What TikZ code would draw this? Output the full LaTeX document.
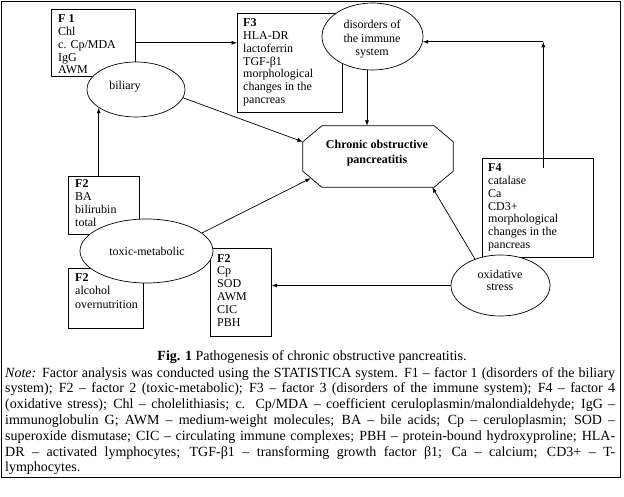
\documentclass[tikz,border=0pt]{standalone}
\usepackage{fontspec}
\setmainfont{Liberation Serif}
\usetikzlibrary{arrows.meta,shapes.geometric}
\newcommand\mylines[3]{{\fontsize{12}{#1}\selectfont\begin{tabular}[t]{@{}#2@{}}#3\end{tabular}}}
\newcommand\capline[1]{\makebox[610pt][s]{#1}}
\begin{document}
\begin{tikzpicture}[x=1pt,y=-1pt,
  factorbox/.style={draw, line width=0.7pt, inner sep=0, anchor=north west},
  oval/.style={ellipse, draw, fill=white, inner sep=0, line width=0.7pt},
  conn/.style={-{Latex[length=5.5pt,width=4pt]}, line width=0.7pt},
  txt/.style={inner sep=0, anchor=base west},
  ctxt/.style={inner sep=0, anchor=base}]
\useasboundingbox (0,0) rectangle (624,497);
\draw[line width=1pt] (1.5,1.5) rectangle (620,477);

% factor boxes
\node[factorbox, minimum width=84pt, minimum height=67pt] (f1) at (51,9) {};
\node[factorbox, minimum width=105pt, minimum height=99pt] (f3) at (237,13) {};
\node[factorbox, minimum width=71pt, minimum height=58pt] (ba) at (68,176) {};
\node[factorbox, minimum width=75pt, minimum height=60pt] (alc) at (68,268) {};
\node[factorbox, minimum width=61pt, minimum height=88pt] (cp) at (210,248) {};
\node[factorbox, minimum width=111pt, minimum height=99pt] (f4) at (482,158) {};

\node[txt] (f1t) at (58,23) {\mylines{12.7}{l}{\textbf{F 1}\\Chl\\c. Cp/MDA\\IgG\\AWM}};
\node[txt] (f3t) at (243,27) {\mylines{12.7}{l}{\textbf{F3}\\HLA-DR\\lactoferrin\\TGF-β1\\morphological\\changes in the\\pancreas}};
\node[txt] (bat) at (75,188) {\mylines{13}{l}{\textbf{F2}\\BA\\bilirubin\\total}};
\node[txt] (alct) at (75,282) {\mylines{13}{l}{\textbf{F2}\\alcohol\\overnutrition}};
\node[txt] (cpt) at (217,262) {\mylines{12.8}{l}{\textbf{F2}\\Cp\\SOD\\AWM\\CIC\\PBH}};
\node[txt] (f4t) at (488,172) {\mylines{12.7}{l}{\textbf{F4}\\catalase\\Ca\\CD3+\\morphological\\changes in the\\pancreas}};

% ellipses
\node[oval, minimum width=98pt, minimum height=55pt] (bil) at (136,89.5) {};
\node[oval, minimum width=101pt, minimum height=67pt] (imm) at (372.5,36.5) {};
\node[oval, minimum width=133pt, minimum height=64pt] (tox) at (146.5,251) {};
\node[oval, minimum width=99pt, minimum height=61pt] (ox) at (500.5,285.5) {};

\node[ctxt] (bilt) at (125,90) {\mylines{13}{c}{biliary}};
\node[ctxt] (immt) at (372,29) {\mylines{13.5}{c}{disorders of\\the immune\\system}};
\node[ctxt] (toxt) at (147,255) {\mylines{13}{c}{toxic-metabolic}};
\node[ctxt] (oxt) at (500,278) {\mylines{13}{c}{oxidative\\stress}};

% central octagon
\node[minimum width=150pt, minimum height=61pt, inner sep=0] (cop) at (378,156.5) {};
\draw[line width=0.7pt] ([xshift=19pt]cop.north west) -- ([xshift=-19pt]cop.north east)
  -- ([yshift=-16pt]cop.north east) -- ([yshift=16pt]cop.south east)
  -- ([xshift=-19pt]cop.south east) -- ([xshift=19pt]cop.south west)
  -- ([yshift=16pt]cop.south west) -- ([yshift=-16pt]cop.north west) -- cycle;
\node[ctxt] (copt) at (377,149) {\mylines{15}{c}{\textbf{Chronic obstructive}\\\textbf{pancreatitis}}};

% connectors
\draw[conn] (f1.east) -- (f1.east -| f3.west);
\draw[conn] (bil.-10) -- ([yshift=-16pt]cop.north west);
\draw[conn] (bil.206 |- ba.north) -- (bil.206);
\draw[conn] (tox.18) -- ([xshift=8pt,yshift=9pt]cop.south west);
\coordinate (immout) at ([xshift=-5.5pt]imm.south);
\draw[conn] (immout) -- (immout |- cop.north);
\coordinate (f4out) at ([xshift=5.5pt,yshift=-10pt]f4.north);
\draw[conn] (f4out) -- (f4out |- imm.-6);
\draw[conn] (f4out |- imm.-6) -- (imm.-6);
\draw[conn] (ox.134) -- ([xshift=-21pt]cop.south east);
\draw[conn] (ox.west) -- (ox.west -| cp.east);

% caption
\node[ctxt] (fig) at (312,360.7) {\fontsize{14}{15.8}\selectfont\textbf{Fig. 1} Pathogenesis of chronic obstructive pancreatitis.};
\node[txt] (note) at (5,377) {\fontsize{14}{15.8}\selectfont\begin{tabular}[t]{@{}l@{}}
\capline{\textit{Note:} Factor analysis was conducted using the STATISTICA system. F1 – factor 1 (disorders of the biliary}\\
\capline{system); F2 – factor 2 (toxic-metabolic); F3 – factor 3 (disorders of the immune system); F4 – factor 4}\\
\capline{(oxidative stress); Chl – cholelithiasis; c. Cp/MDA – coefficient ceruloplasmin/malondialdehyde; IgG –}\\
\capline{immunoglobulin G; AWM – medium-weight molecules; BA – bile acids; Cp – ceruloplasmin; SOD –}\\
\capline{superoxide dismutase; CIC – circulating immune complexes; PBH – protein-bound hydroxyproline; HLA-}\\
\capline{DR – activated lymphocytes; TGF-β1 – transforming growth factor β1; Ca – calcium; CD3+ – T-}\\
lymphocytes.
\end{tabular}};
\end{tikzpicture}
\end{document}
